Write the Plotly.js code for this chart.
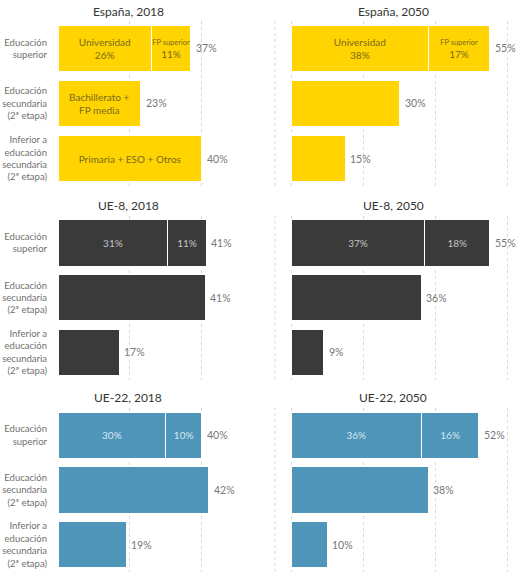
<!DOCTYPE html>
<html>
<head>
<meta charset="utf-8">
<script src="https://cdn.plot.ly/plotly-3.0.1.min.js"></script>
<style>html,body{margin:0;padding:0;background:#fff;}#chart{width:517px;height:584px;}</style>
</head>
<body>
<div id="chart"></div>
<script>
// ---- Data ----
const panelTitles = ['España, 2018', 'España, 2050', 'UE-8, 2018', 'UE-8, 2050', 'UE-22, 2018', 'UE-22, 2050'];
const rowLabels = ['Educación<br>superior', 'Educación<br>secundaria<br>(2ª etapa)', 'Inferior a<br>educación<br>secundaria<br>(2ª etapa)'];
const universidad = [26, 38, 30.6, 37, 30, 36];
const fpSuperior  = [11, 17, 10.7, 18, 10, 16];
const secundaria  = [23, 30, 41, 36, 42, 38];
const inferior    = [40, 15, 17, 9, 19, 10];
const segmentNames = ['Universidad', 'FP superior'];
const showSegmentNames = [true, true, false, false, false, false];
const secundariaNames = ['Bachillerato +<br>FP media', '', '', '', '', ''];
const inferiorNames = ['Primaria + ESO + Otros', '', '', '', '', ''];

// ---- Styles ----
const FONT = 'Lato, sans-serif';
const barColors = ['#FFD400', '#FFD400', '#3a3a3a', '#3a3a3a', '#4e95b9', '#4e95b9'];
const insideColors = ['#7a6a1e', '#7a6a1e', '#c4c4c4', '#c4c4c4', '#d8e8f1', '#d8e8f1'];
const W = 517, H = 584;
const leftDom = [58 / W, 258 / W];
const rightDom = [275 / W, 1];
const leftRange = [0, 200 / 3.59];
const rightRange = [-4.5, -4.5 + 242 / 3.61];
const rowDoms = [[1 - 186 / H, 1 - 21 / H], [1 - 379.7 / H, 1 - 215.5 / H], [1 - 572 / H, 1 - 408 / H]];
const titleY = [12, 205, 397];
const titleX = [128, 393];

const pct = v => Math.round(v) + '%';
const data = [];
const layout = {
  width: W, height: H,
  margin: {l: 0, r: 0, t: 0, b: 0},
  paper_bgcolor: '#fff', plot_bgcolor: '#fff',
  barmode: 'stack', bargap: 0.15,
  showlegend: false,
  font: {family: FONT, color: '#666'},
  annotations: [], shapes: []
};

for (let p = 0; p < 6; p++) {
  const col = p % 2, row = Math.floor(p / 2);
  const idx = p === 0 ? '' : String(p + 1);
  const xa = 'x' + idx, ya = 'y' + idx;
  const tf = {family: FONT, size: 10, color: insideColors[p]};
  const univText = showSegmentNames[p] ? segmentNames[0] + '<br>' + pct(universidad[p]) : pct(universidad[p]);
  const fpText = showSegmentNames[p]
    ? '<span style="font-size:7.5px">' + segmentNames[1] + '</span><br>' + pct(fpSuperior[p])
    : pct(fpSuperior[p]);
  data.push({
    type: 'bar', orientation: 'h', xaxis: xa, yaxis: ya,
    x: [universidad[p], secundaria[p], inferior[p]], y: [0, 1, 2],
    marker: {color: barColors[p], line: {color: '#fff', width: 1}},
    text: [univText, secundariaNames[p], inferiorNames[p]], textposition: 'inside', insidetextanchor: 'middle',
    textangle: 0, constraintext: 'none', textfont: tf, hoverinfo: 'none'
  });
  data.push({
    type: 'bar', orientation: 'h', xaxis: xa, yaxis: ya,
    x: [fpSuperior[p]], y: [0],
    marker: {color: barColors[p], line: {color: '#fff', width: 1}},
    text: [fpText], textposition: 'inside', insidetextanchor: 'middle',
    textangle: 0, constraintext: 'none', textfont: tf, hoverinfo: 'none'
  });
  const totals = [universidad[p] + fpSuperior[p], secundaria[p], inferior[p]];
  totals.forEach((t, i) => {
    layout.annotations.push({
      xref: xa, yref: ya, x: t, y: i, xanchor: 'left', yanchor: 'middle', xshift: 3,
      showarrow: false, text: pct(t), font: {family: FONT, size: 10.5, color: '#777'}
    });
  });
  layout['xaxis' + idx] = {
    domain: col === 0 ? leftDom : rightDom,
    range: col === 0 ? leftRange : rightRange,
    anchor: ya, showticklabels: false, zeroline: false,
    showgrid: true, dtick: 20, tick0: 0, gridcolor: '#d9d9d9', griddash: 'dot', gridwidth: 1,
    fixedrange: true
  };
  layout['yaxis' + idx] = {
    domain: rowDoms[row], range: [2.5, -0.5], anchor: xa,
    tickvals: [0, 1, 2], ticktext: col === 0 ? rowLabels : ['', '', ''],
    showticklabels: col === 0, ticks: '', ticklabelstandoff: 10,
    showgrid: false, zeroline: false, showline: false,
    tickfont: {family: FONT, size: 9.5, color: '#707070'}, fixedrange: true
  };
  layout.annotations.push({
    xref: 'paper', yref: 'paper', x: titleX[col] / W, y: 1 - titleY[row] / H,
    xanchor: 'center', yanchor: 'middle', showarrow: false,
    text: panelTitles[p], font: {family: FONT, size: 12, color: '#333'}
  });
  if (col === 1) {
    layout.shapes.push({
      type: 'line', xref: xa + ' domain', yref: ya + ' domain', x0: 0, x1: 0, y0: 0, y1: 1,
      line: {color: '#d9d9d9', width: 1, dash: 'dot'}, layer: 'below'
    });
  }
}

Plotly.newPlot('chart', data, layout, {displayModeBar: false, staticPlot: true});
</script>
</body>
</html>
